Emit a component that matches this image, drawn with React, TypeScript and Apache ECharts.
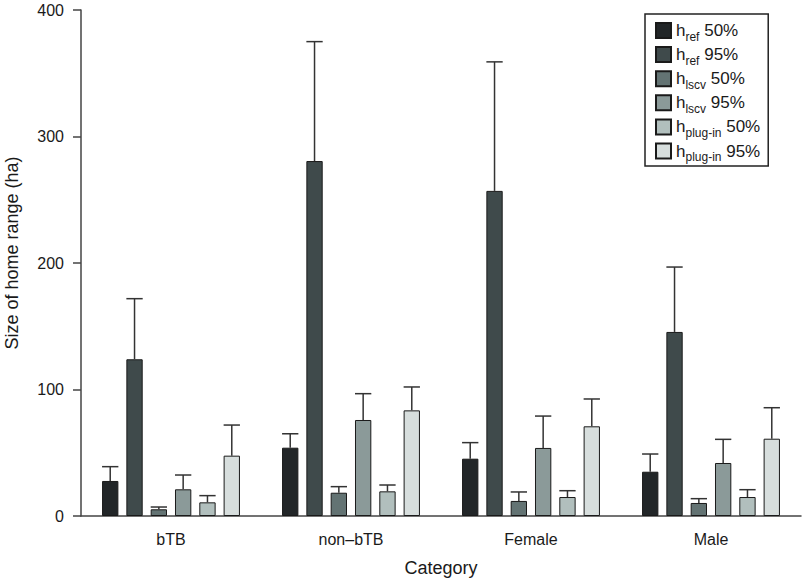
import React, { useEffect, useRef } from "react";
import * as echarts from "echarts";

const categories = ["bTB", "non\u2013bTB", "Female", "Male"];
const seriesNames = ["href50", "href95", "lscv50", "lscv95", "plug50", "plug95"];
const seriesSubs = ["ref", "ref", "lscv", "lscv", "plug-in", "plug-in"];
const seriesPct = ["50%", "95%", "50%", "95%", "50%", "95%"];
const seriesColors = ["#222628", "#3f4a4b", "#637373", "#8b9a99", "#b1bfbd", "#d7dedd"];

const href50 = [27.7, 54, 45.3, 35];
const href95 = [123.9, 280.6, 257, 145.5];
const lscv50 = [5.3, 18.4, 11.9, 10.3];
const lscv95 = [21.1, 75.9, 53.8, 41.9];
const plug50 = [10.8, 19.5, 15, 15];
const plug95 = [47.7, 83.5, 70.9, 61.1];

const href50Err = [39, 65, 58, 49];
const href95Err = [171.8, 375, 359, 196.8];
const lscv50Err = [7.1, 23.2, 19, 13.7];
const lscv95Err = [32.4, 96.7, 79, 60.6];
const plug50Err = [16.1, 24.5, 20, 20.8];
const plug95Err = [71.9, 102, 92.5, 85.6];

const yTicks = [0, 100, 200, 300, 400];

const values = [href50, href95, lscv50, lscv95, plug50, plug95];
const errors = [href50Err, href95Err, lscv50Err, lscv95Err, plug50Err, plug95Err];

const FONT = "'Liberation Sans', Arial, Helvetica, sans-serif";
const CAT_GAP = 0.234;
const BAR_GAP = 0.49;

export default function App() {
  const ref = useRef<HTMLDivElement>(null);
  useEffect(() => {
    if (!ref.current) return;
    const chart = echarts.init(ref.current, undefined, { renderer: "svg" });
    const n = seriesNames.length;

    const barSeries = seriesNames.map((name, i) => ({
      name,
      type: "bar",
      data: values[i],
      barCategoryGap: (CAT_GAP * 100).toFixed(1) + "%",
      barGap: (BAR_GAP * 100).toFixed(0) + "%",
      itemStyle: { color: seriesColors[i], borderColor: "#1a1a1a", borderWidth: 1 },
      z: 2,
    }));

    const errSeries = seriesNames.map((name, i) => ({
      name: name + "_err",
      type: "custom",
      data: categories.map((_, c) => [c, values[i][c], errors[i][c]]),
      z: 3,
      renderItem: (params: any, api: any) => {
        const c = api.value(0);
        const band = api.size([1, 0])[0];
        const used = band * (1 - CAT_GAP);
        const w = used / (n + (n - 1) * BAR_GAP);
        const center = api.coord([c, 0])[0];
        const x = center - used / 2 + i * w * (1 + BAR_GAP) + w / 2;
        const yTop = api.coord([c, api.value(1)])[1];
        const yErr = api.coord([c, api.value(2)])[1];
        const style = { stroke: "#333", lineWidth: 1.5 };
        return {
          type: "group",
          children: [
            { type: "line", shape: { x1: x, y1: yTop, x2: x, y2: yErr }, style },
            { type: "line", shape: { x1: x - w / 2, y1: yErr, x2: x + w / 2, y2: yErr }, style },
          ],
        };
      },
    }));

    chart.setOption({
      animation: false,
      textStyle: { fontFamily: FONT },
      grid: { left: 81, right: 1, top: 10, bottom: 68 },
      legend: {
        data: seriesNames,
        orient: "vertical",
        left: 645,
        top: 14,
        padding: [8, 8, 3, 10],
        itemGap: 3.6,
        itemWidth: 15,
        itemHeight: 15,
        icon: "rect",
        borderColor: "#222",
        borderWidth: 1.5,
        formatter: (name: string) => {
          const i = seriesNames.indexOf(name);
          return `{m|h}{s|${seriesSubs[i]}}{m| ${seriesPct[i]}}`;
        },
        textStyle: {
          color: "#1a1a1a",
          fontFamily: FONT,
          rich: {
            m: { fontSize: 17, fontFamily: FONT, color: "#1a1a1a" },
            s: { fontSize: 12, fontFamily: FONT, color: "#1a1a1a", padding: [12, 0, 0, 0] },
          },
        },
      },
      xAxis: {
        type: "category",
        data: categories,
        name: "Category",
        nameLocation: "middle",
        nameGap: 43,
        nameTextStyle: { fontSize: 18, color: "#1a1a1a", fontFamily: FONT },
        axisLine: { lineStyle: { color: "#444", width: 1.5 } },
        axisTick: { alignWithLabel: true, length: 8, lineStyle: { color: "#444", width: 1.5 } },
        axisLabel: { fontSize: 16, color: "#1a1a1a", margin: 15, fontFamily: FONT },
      },
      yAxis: {
        type: "value",
        min: yTicks[0],
        max: yTicks[yTicks.length - 1],
        interval: 100,
        splitLine: { show: false },
        axisLine: { show: true, lineStyle: { color: "#444", width: 1.5 } },
        axisTick: { show: true, length: 8, lineStyle: { color: "#444", width: 1.5 } },
        axisLabel: { fontSize: 16, color: "#1a1a1a", margin: 17, fontFamily: FONT },
      },
      graphic: [
        {
          type: "text",
          x: 12,
          y: 253,
          rotation: Math.PI / 2,
          style: {
            text: "Size of home range (ha)",
            fontSize: 18,
            fontFamily: FONT,
            fill: "#1a1a1a",
            textAlign: "center",
            textVerticalAlign: "middle",
          },
        },
      ],
      series: [...barSeries, ...errSeries],
    });
    return () => chart.dispose();
  }, []);
  return <div ref={ref} style={{ width: 802, height: 584, position: "absolute", left: 0, top: 0 }} />;
}
